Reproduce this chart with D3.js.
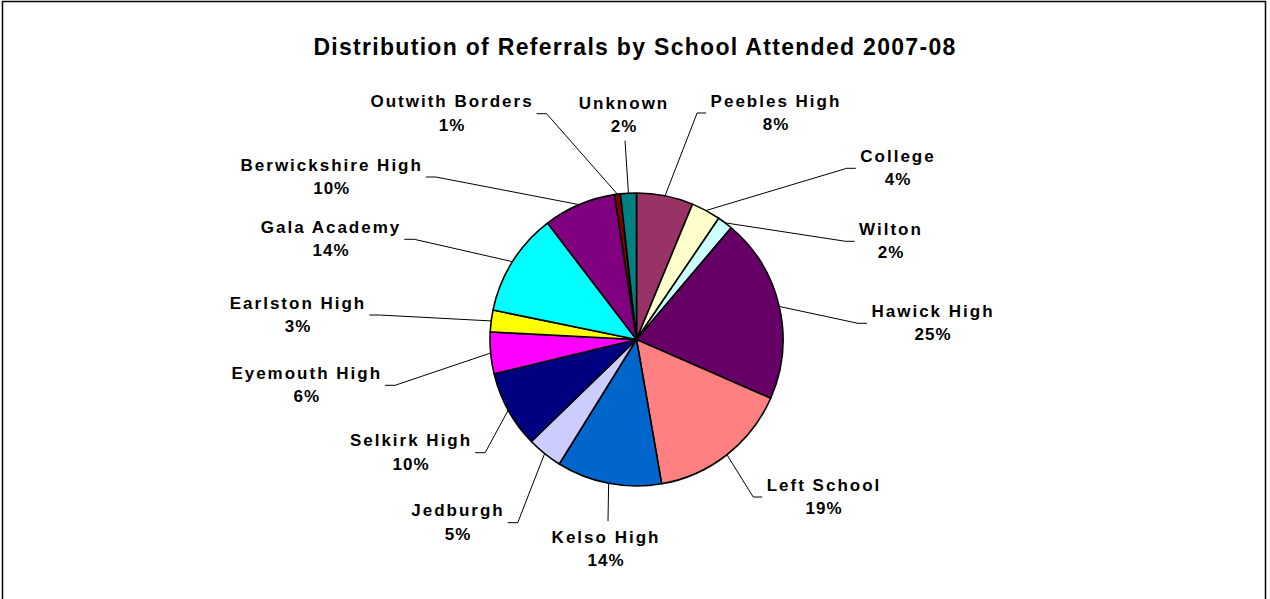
<!DOCTYPE html>
<html>
<head>
<meta charset="utf-8">
<script src="https://cdn.jsdelivr.net/npm/d3@7"></script>
<style>
  html, body { margin: 0; padding: 0; background: #fff; }
  svg text { font-family: "Liberation Sans", Arial, sans-serif; font-weight: bold; fill: #000; }
</style>
</head>
<body>
<div id="chart"></div>
<script>
// slice order follows the chart, clockwise from 12 o'clock
const schools = ['Peebles High', 'College', 'Wilton', 'Hawick High', 'Left School', 'Kelso High',
  'Jedburgh', 'Selkirk High', 'Eyemouth High', 'Earlston High', 'Gala Academy',
  'Berwickshire High', 'Outwith Borders', 'Unknown'];
// slice sizes (share of the circle)
const sliceValues = [6.25, 3.25, 1.7, 20.4, 15.7, 11.6, 3.9, 8.5, 4.6, 2.4, 11.4, 8.0, 0.65, 1.75];
// percentages printed on the labels
const pctLabels = ['8%', '4%', '2%', '25%', '19%', '14%', '5%', '10%', '6%', '3%', '14%', '10%', '1%', '2%'];
const sliceColors = ['#993366', '#FFFFCC', '#CCFFFF', '#660066', '#FF8080', '#0066CC',
  '#CCCCFF', '#000080', '#FF00FF', '#FFFF00', '#00FFFF', '#800080', '#800000', '#008080'];

const title = 'Distribution of Referrals by School Attended 2007-08';

// where each label sits, relative to the pie centre (label centre x, first baseline y)
const labelOffsets = [
  [139.5, -233], [261.5, -177.7], [254.5, -104.7], [296.5, -22.7], [187.5, 151],
  [-30.5, 203.3], [-178.5, 176.7], [-225.5, 106.7], [-329.8, 39.3], [-338.5, -31],
  [-305.5, -106.7], [-304.8, -169], [-184.5, -232.3], [-12.5, -230.7]
];

const W = 1270, H = 599;
const cx = 636.5, cy = 339.5, r = 146.5;
const lineGap = 23.5;

const svg = d3.select('#chart').append('svg')
  .attr('width', W)
  .attr('height', H);

// outer frame (runs off the bottom of the picture)
svg.append('rect')
  .attr('x', 2.5).attr('y', 1.5)
  .attr('width', 1263).attr('height', 650)
  .attr('fill', 'none')
  .attr('stroke', '#000')
  .attr('stroke-width', 1.5);

svg.append('text')
  .attr('x', W / 2)
  .attr('y', 55)
  .attr('text-anchor', 'middle')
  .style('font-size', '23px')
  .style('letter-spacing', '1.3px')
  .text(title);

const pie = d3.pie().sort(null).value(d => d);
const arcs = pie(sliceValues);
const arc = d3.arc().innerRadius(0).outerRadius(r);

const g = svg.append('g').attr('transform', 'translate(' + cx + ',' + cy + ')');

g.selectAll('path.slice')
  .data(arcs)
  .enter().append('path')
  .attr('class', 'slice')
  .attr('d', arc)
  .attr('fill', (d, i) => sliceColors[i])
  .attr('stroke', '#000')
  .attr('stroke-width', 1.6)
  .attr('stroke-linejoin', 'round');

// labels
const labels = g.selectAll('g.label')
  .data(arcs)
  .enter().append('g')
  .attr('class', 'label');

labels.append('text')
  .attr('x', (d, i) => labelOffsets[i][0])
  .attr('y', (d, i) => labelOffsets[i][1])
  .attr('text-anchor', 'middle')
  .style('font-size', '17px')
  .style('letter-spacing', '2px')
  .text((d, i) => schools[i]);

labels.append('text')
  .attr('x', (d, i) => labelOffsets[i][0])
  .attr('y', (d, i) => labelOffsets[i][1] + lineGap)
  .attr('text-anchor', 'middle')
  .style('font-size', '17px')
  .style('letter-spacing', '1px')
  .text((d, i) => pctLabels[i]);

// leader lines: arc edge at mid-angle -> elbow -> label side
labels.each(function (d, i) {
  const box = this.getBBox();
  const a = (d.startAngle + d.endAngle) / 2;
  const px = r * Math.sin(a), py = -r * Math.cos(a);
  const b1 = labelOffsets[i][1];
  let pts;
  if (box.x > px) {
    const yy = b1 + 6.5;
    pts = [[px, py], [box.x - 13.5, yy], [box.x - 4.5, yy]];
  } else if (box.x + box.width < px) {
    const yy = b1 + 6.5;
    pts = [[px, py], [box.x + box.width + 13, yy], [box.x + box.width + 3, yy]];
  } else if (py > 0) {
    pts = [[px, py], [labelOffsets[i][0] + 2, b1 - 21.6]];
  } else {
    pts = [[px, py], [labelOffsets[i][0] + 1, b1 + lineGap + 8.4]];
  }
  d3.select(this).append('path')
    .attr('d', d3.line()(pts))
    .attr('fill', 'none')
    .attr('stroke', '#000')
    .attr('stroke-width', 1);
});
</script>
</body>
</html>
